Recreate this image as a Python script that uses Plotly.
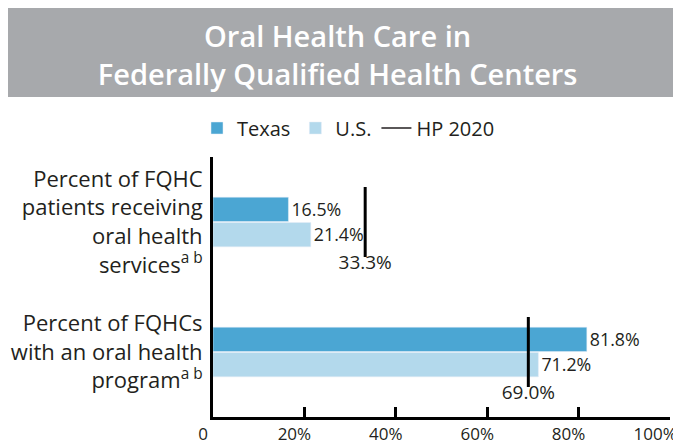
import plotly.graph_objects as go

categories = [
    "Percent of FQHC<br>patients receiving<br>oral health<br>services<sup>a b</sup>",
    "Percent of FQHCs<br>with an oral health<br>program<sup>a b</sup>",
]
texas = [16.5, 81.8]
us = [21.4, 71.2]
hp2020 = [33.3, 69.0]
tick_vals = [0, 20, 40, 60, 80, 100]
# last label padded with a transparent digit so it stays inside the window
tick_text = ["0", "20%", "40%", "60%", "80%",
             "100%<span style='color:rgba(0,0,0,0)'>0</span>"]

TEXAS_BLUE = "#4ba6d3"
US_BLUE = "#b3d9ec"
INK = "#231f20"
FONT = "Open Sans"

# plot area in figure pixels (page adds an 8px body margin)
L, R, T, B = 205, 19, 149, 35
PW, PH = 681 - L - R, 444 - T - B

fig = go.Figure()
fig.add_trace(go.Bar(
    name="Texas", y=categories, x=texas, orientation="h",
    marker_color=TEXAS_BLUE,
    text=[f"{v:.1f}%" for v in texas], textposition="outside",
    textfont=dict(size=19, color=INK), cliponaxis=False,
))
fig.add_trace(go.Bar(
    name="U.S.", y=categories, x=us, orientation="h",
    marker_color=US_BLUE,
    text=[f"{v:.1f}%" for v in us], textposition="outside",
    textfont=dict(size=19, color=INK), cliponaxis=False,
))
# HP 2020 target drawn as a tall vertical tick, label underneath
fig.add_trace(go.Scatter(
    x=hp2020, y=categories, mode="markers+text",
    marker=dict(symbol="line-ns", size=50, line=dict(width=3, color="black")),
    text=[f"{v:.1f}%" for v in hp2020], textposition="bottom center",
    textfont=dict(size=19, color=INK), showlegend=False, cliponaxis=False,
))
# legend-only entry
fig.add_trace(go.Scatter(
    x=[None], y=[None], mode="lines", name="HP 2020",
    line=dict(color=INK, width=1.5),
))

fig.update_layout(
    width=681, height=444,
    plot_bgcolor="white", paper_bgcolor="white",
    font=dict(family=FONT, color=INK),
    margin=dict(l=L, r=R, t=T, b=B),
    barmode="group", bargap=0.61, bargroupgap=0.04,
    title=dict(
        text="Oral Health Care in<br>Federally Qualified Health Centers",
        font=dict(size=29, color="white", family=FONT, weight=600),
        x=0.484, xanchor="center", xref="container",
        y=1 - 39 / 444, yanchor="middle", yref="container",
    ),
    legend=dict(
        orientation="h", xref="container", yref="container",
        x=0.5, xanchor="center", y=1 - 120 / 444, yanchor="middle",
        font=dict(size=20, color=INK), traceorder="normal",
    ),
    shapes=[dict(
        type="rect", xref="paper", yref="paper", layer="below",
        x0=-L / PW, x1=(681 - L + 10) / PW,
        y0=(444 - B - 89) / PH, y1=(444 - B + 10) / PH,
        fillcolor="#a7a9ac", line_width=0,
    )],
)
fig.update_xaxes(
    range=[0, 100], tickvals=tick_vals, ticktext=tick_text,
    showgrid=False, zeroline=False,
    showline=True, linewidth=3, linecolor="black",
    ticks="inside", ticklen=10, tickwidth=3, tickcolor="black",
    tickfont=dict(size=17, color=INK), ticklabelshift=-10,
    ticklabeloverflow="allow", automargin=False,
)
fig.update_yaxes(
    autorange="reversed", showgrid=False,
    showline=True, linewidth=3, linecolor="black",
    ticks="", ticklabelstandoff=3,
    tickfont=dict(size=22, color=INK), automargin=False,
)

fig.write_html("out.html")
